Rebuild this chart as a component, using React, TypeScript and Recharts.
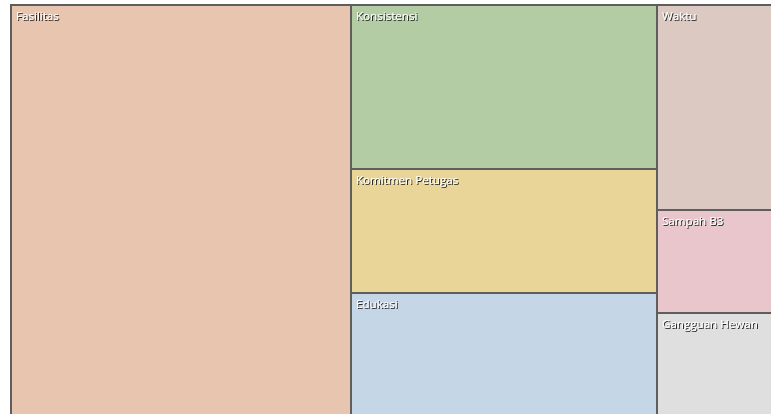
import React from 'react';
import { Treemap } from 'recharts';

const categories = ['Fasilitas', 'Konsistensi', 'Komitmen Petugas', 'Edukasi', 'Waktu', 'Sampah B3', 'Gangguan Hewan'];
const values = [44.55, 16.05, 12.12, 12.01, 7.61, 3.81, 3.84];
const colors = ['#E8C5AE', '#B3CCA3', '#E9D597', '#C5D6E6', '#DCCAC2', '#E9C5CC', '#DFDFDF'];

const data = categories.map((name, i) => ({ name, size: values[i], fill: colors[i] }));

const CellContent = (props: any) => {
  const { x, y, width, height, depth, name } = props;
  if (depth === 0) {
    return (
      <defs>
        <filter id="txtShadow" x="-10%" y="-30%" width="130%" height="180%">
          <feDropShadow dx="1" dy="1" stdDeviation="0.7" floodColor="#222" floodOpacity="1" />
        </filter>
      </defs>
    );
  }
  if (depth !== 1) return null;
  const idx = categories.indexOf(name);
  return (
    <g>
      <rect x={x} y={y} width={width} height={height} fill={colors[idx]} stroke="#5E5E5E" strokeWidth={2} />
      <text x={x + 5} y={y + 15} fill="#ffffff" fontSize={11.6} fontFamily="'Open Sans', sans-serif" filter="url(#txtShadow)">
        {name}
      </text>
    </g>
  );
};

export default function App() {
  return (
    <div style={{ position: 'absolute', left: 0, top: 0, width: 771, height: 414, overflow: 'hidden', background: '#fff' }}>
      <style>{'.recharts-surface{overflow:visible}'}</style>
      <div style={{ position: 'absolute', left: 11, top: 5 }}>
        <Treemap
          width={762}
          height={411}
          data={data}
          dataKey="size"
          nameKey="name"
          isAnimationActive={false}
          content={<CellContent />}
        />
      </div>
    </div>
  );
}
